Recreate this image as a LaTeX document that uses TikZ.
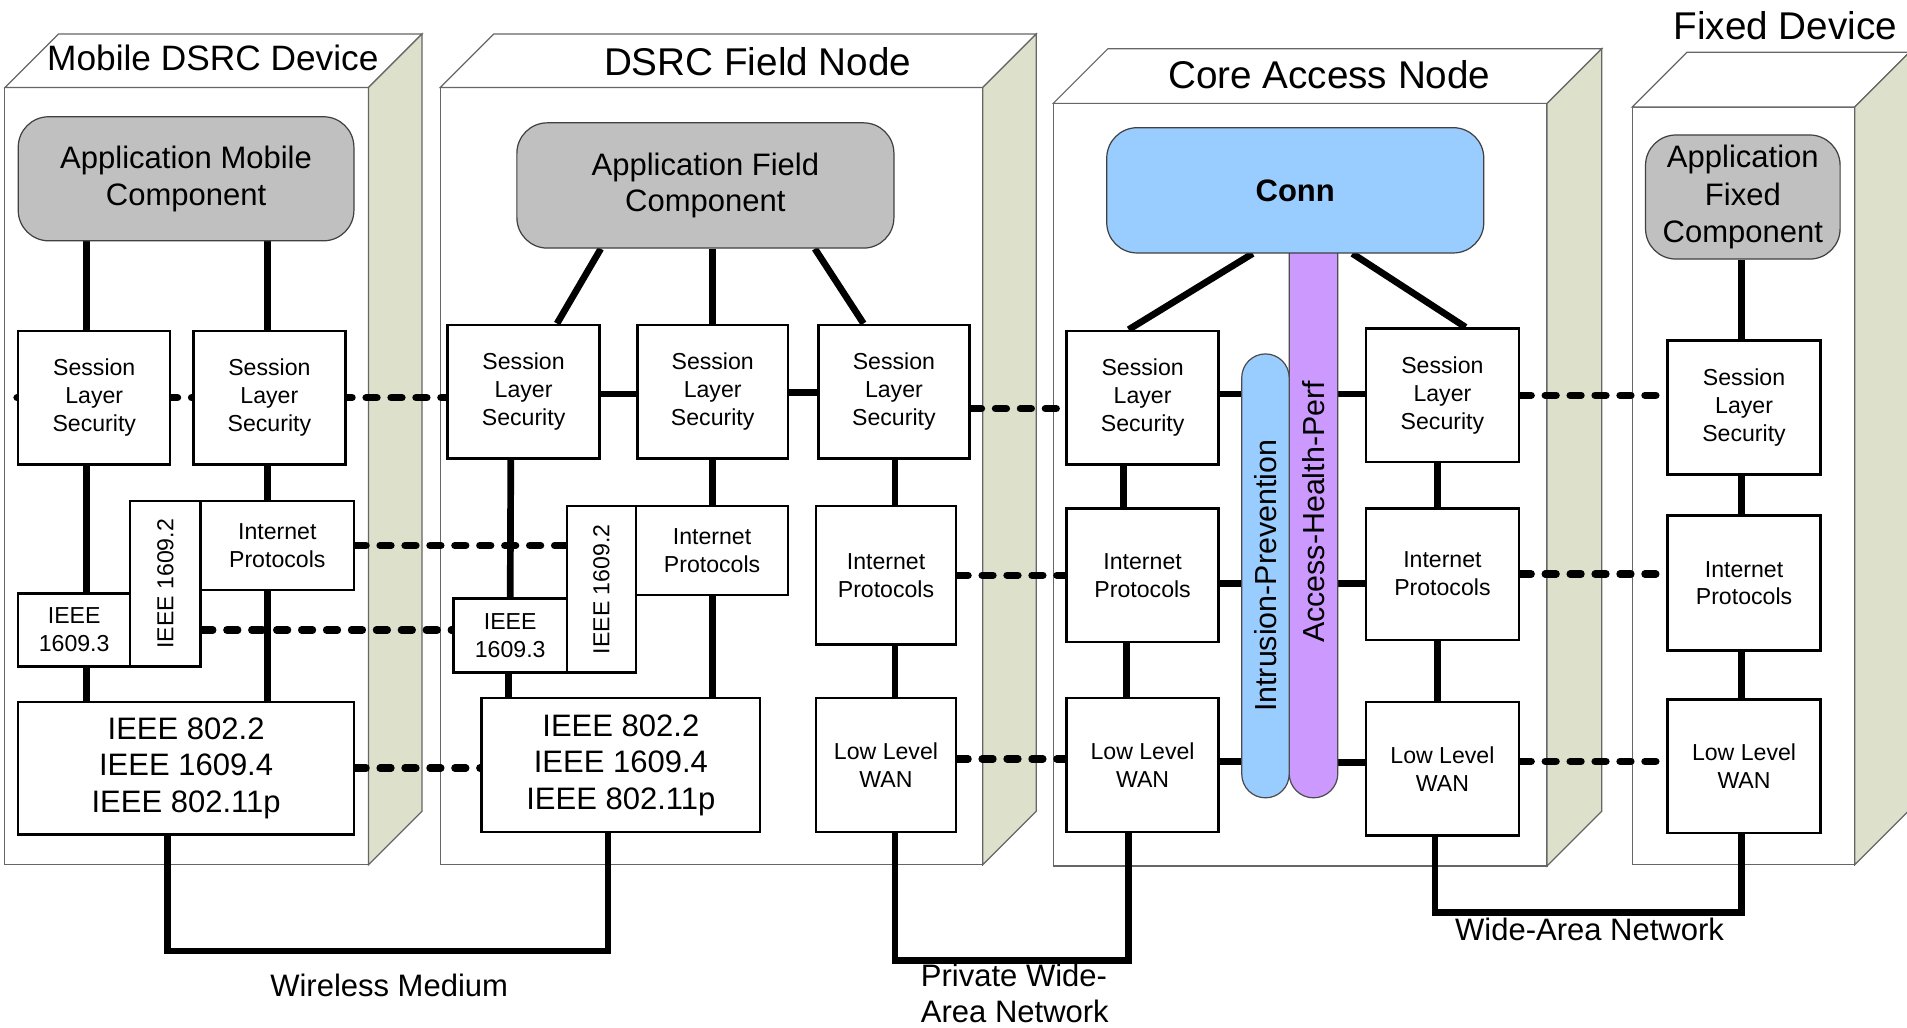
\documentclass[tikz,border=0pt]{standalone}
\usepackage{fontspec}
\setmainfont{Liberation Sans}
\usepackage{graphicx}
\pgfdeclarelayer{bg}
\pgfdeclarelayer{wires}
\pgfsetlayers{bg,wires,main}
\definecolor{sidecol}{RGB}{221,224,203}
\definecolor{appgray}{RGB}{192,192,192}
\definecolor{connblue}{RGB}{153,204,255}
\definecolor{ahpurple}{RGB}{204,153,255}
\begin{document}
\begin{tikzpicture}[x=1pt,y=-1pt,
  box/.style={draw=black, line width=2, fill=white, inner sep=2, align=center, font=\fontsize{19}{23}\selectfont},
  bigbox/.style={box, font=\fontsize{25.5}{30}\selectfont},
  app/.style={draw=black!75, line width=1, fill=appgray, rounded corners=25, align=center, font=\fontsize{25.5}{30}\selectfont},
  wire/.style={line width=5.5},
  dots/.style={line width=6, line cap=round, dash pattern=on 9pt off 11.5pt},
  shell/.style={draw=black!60, line width=1},
  title/.style={font=\fontsize{31.8}{36}\selectfont, inner sep=0},
  lbl/.style={font=\fontsize{25.5}{30}\selectfont, align=left, inner sep=0},
  bar/.style={draw=black!70, line width=1, inner sep=0},
  vtext/.style={font=\fontsize{25}{30}\selectfont, inner sep=0}
]
\useasboundingbox (0,0) rectangle (1568,845);

% ---------- 3D shells ----------
\begin{pgfonlayer}{bg}
\fill[white] (0,0) rectangle (1568,845);
\draw[shell, fill=white] (4,72) rectangle (303,711);
\draw[shell, fill=white] (4,72) -- (48,28) -- (347,28) -- (303,72) -- cycle;
\draw[shell, fill=sidecol] (303,72) -- (347,28) -- (347,667) -- (303,711) -- cycle;

\draw[shell, fill=white] (362,72) rectangle (808,711);
\draw[shell, fill=white] (362,72) -- (406,28) -- (852,28) -- (808,72) -- cycle;
\draw[shell, fill=sidecol] (808,72) -- (852,28) -- (852,667) -- (808,711) -- cycle;

\draw[shell, fill=white] (866,85) rectangle (1272,712);
\draw[shell, fill=white] (866,85) -- (911,40) -- (1317,40) -- (1272,85) -- cycle;
\draw[shell, fill=sidecol] (1272,85) -- (1317,40) -- (1317,667) -- (1272,712) -- cycle;

\draw[shell, fill=white] (1342,88) rectangle (1525,711);
\draw[shell, fill=white] (1342,88) -- (1387,43) -- (1570,43) -- (1525,88) -- cycle;
\draw[shell, fill=sidecol] (1525,88) -- (1570,43) -- (1570,666) -- (1525,711) -- cycle;
\end{pgfonlayer}

% ---------- titles ----------
\node[title, font=\fontsize{29}{34}\selectfont] (t_mob) at (175,48) {Mobile DSRC Device};
\node[title] (t_fld) at (623,51) {DSRC Field Node};
\node[title] (t_core) at (1093,61) {Core Access Node};
\node[title] (t_fix) at (1468,21) {Fixed Device};

% ---------- Mobile DSRC Device ----------
\node[app, minimum width=276, minimum height=102] (m_app) at (153,147) {Application Mobile\\Component};
\node[box, minimum width=125, minimum height=110] (m_sls1) at (77.5,327) {Session\\Layer\\Security};
\node[box, minimum width=125, minimum height=110] (m_sls2) at (221.5,327) {Session\\Layer\\Security};
\node[box, minimum width=92, minimum height=60] (m_i3) at (61,518) {IEEE\\1609.3};
\node[box, minimum width=58, minimum height=136] (m_i2) at (136,480) {\rotatebox{90}{IEEE 1609.2}};
\node[box, minimum width=126, minimum height=73] (m_ip) at (228,448.5) {Internet\\Protocols};
\node[bigbox, minimum width=276, minimum height=109] (m_phy) at (153,631.5) {IEEE 802.2\\IEEE 1609.4\\IEEE 802.11p};

% ---------- DSRC Field Node ----------
\node[app, minimum width=310, minimum height=103] (f_app) at (580,152.5) {Application Field\\Component};
\node[box, minimum width=125, minimum height=110] (f_slsA) at (430.5,322) {Session\\Layer\\Security};
\node[box, minimum width=124, minimum height=110] (f_slsB) at (586,322) {Session\\Layer\\Security};
\node[box, minimum width=124, minimum height=110] (f_slsC) at (735,322) {Session\\Layer\\Security};
\node[box, minimum width=93, minimum height=61] (f_i3) at (419.5,522.5) {IEEE\\1609.3};
\node[box, minimum width=57, minimum height=137] (f_i2) at (494.5,484.5) {\rotatebox{90}{IEEE 1609.2}};
\node[box, minimum width=125, minimum height=73] (f_ip) at (585.5,452.5) {Internet\\Protocols};
\node[bigbox, minimum width=229, minimum height=110] (f_phy) at (510.5,629) {IEEE 802.2\\IEEE 1609.4\\IEEE 802.11p};
\node[box, minimum width=115, minimum height=114] (f_ip2) at (728.5,473) {Internet\\Protocols};
\node[box, minimum width=115, minimum height=110] (f_llw) at (728.5,629) {Low Level\\WAN};

% ---------- Core Access Node ----------
\node[bar, fill=ahpurple, rounded corners=20, minimum width=40, minimum height=506] (ahp) at (1080,403) {};
\node[vtext] (ahpt) at (1080,421) {\rotatebox{90}{Access-Health-Perf}};
\node[bar, fill=connblue, rounded corners=19.5, minimum width=39, minimum height=365] (ips) at (1040.5,473.5) {\rotatebox{90}{\fontsize{25}{30}\selectfont Intrusion-Prevention}};
\node[app, fill=connblue, minimum width=310, minimum height=103, font=\fontsize{25.5}{30}\selectfont\bfseries] (c_conn) at (1065,156.5) {Conn};
\node[box, minimum width=125, minimum height=110] (c_slsL) at (939.5,327) {Session\\Layer\\Security};
\node[box, minimum width=126, minimum height=110] (c_slsR) at (1186,325) {Session\\Layer\\Security};
\node[box, minimum width=125, minimum height=110] (c_ipL) at (939.5,473) {Internet\\Protocols};
\node[box, minimum width=125, minimum height=110] (c_llwL) at (939.5,629) {Low Level\\WAN};
\node[box, minimum width=126, minimum height=108] (c_ipR) at (1186,472) {Internet\\Protocols};
\node[box, minimum width=126, minimum height=110] (c_llwR) at (1186,632) {Low Level\\WAN};

% ---------- Fixed Device ----------
\node[app, minimum width=160, minimum height=102, font=\fontsize{25.5}{31}\selectfont] (x_app) at (1433,162) {Application\\Fixed\\Component};
\node[box, minimum width=126, minimum height=110] (x_sls) at (1434,335) {Session\\Layer\\Security};
\node[box, minimum width=126, minimum height=111] (x_ip) at (1434,479.5) {Internet\\Protocols};
\node[box, minimum width=126, minimum height=110] (x_llw) at (1434,630) {Low Level\\WAN};

% ---------- labels ----------
\coordinate (wm) at (320,782);
\coordinate (pw) at (832,790);
\coordinate (wan) at (1307,750);
\node[lbl] (l_wm) at (320,810) {Wireless Medium};
\node[lbl, anchor=west] (l_pw) at (757,817) {Private Wide-\\Area Network};
\node[lbl] (l_wan) at (1307,764) {Wide-Area Network};

% ---------- connectors ----------
\begin{pgfonlayer}{wires}
% mobile
\draw[wire] ([xshift=-82]m_app.south) -- ([xshift=-6.5]m_sls1.north);
\draw[wire] ([xshift=-6.5]m_sls1.south) -- ([xshift=10]m_i3.north);
\draw[wire] ([xshift=10]m_i3.south) -- ([xshift=-82]m_phy.north);
\draw[wire] ([xshift=67]m_app.south) -- ([xshift=-1.5]m_sls2.north);
\draw[wire] ([xshift=-1.5]m_sls2.south) -- ([xshift=-8]m_ip.north);
\draw[wire] ([xshift=-8]m_ip.south) -- ([xshift=67]m_phy.north);
% field
\draw[wire] ([xshift=-86]f_app.south) -- ([xshift=27.5]f_slsA.north);
\draw[wire] ([xshift=6]f_app.south) -- (f_slsB.north);
\draw[wire] ([xshift=90]f_app.south) -- ([xshift=-25]f_slsC.north);
\draw[wire] ([yshift=-2]f_slsA.east) -- ([yshift=-2]f_slsB.west);
\draw[wire] ([yshift=-1]f_slsB.east) -- ([yshift=-1]f_slsC.west);
\draw[wire] ([xshift=-10.5]f_slsA.south) -- (f_i3.north);
\draw[wire] ([xshift=-1.5]f_i3.south) -- ([xshift=-92.5]f_phy.north);
\draw[wire] (f_slsB.south) -- ([xshift=0.5]f_ip.north);
\draw[wire] ([xshift=0.5]f_ip.south) -- ([xshift=75.5]f_phy.north);
\draw[wire] ([xshift=1]f_slsC.south) -- ([xshift=7.5]f_ip2.north);
\draw[wire] ([xshift=7.5]f_ip2.south) -- ([xshift=7.5]f_llw.north);
% core
\draw[wire] ([xshift=-35]c_conn.south) -- ([xshift=-11.5]c_slsL.north);
\draw[wire] ([xshift=47]c_conn.south) -- ([xshift=19]c_slsR.north);
\draw[wire] ([xshift=-15.5]c_slsL.south) -- ([xshift=-15.5]c_ipL.north);
\draw[wire] ([xshift=-13.5]c_ipL.south) -- ([xshift=-13.5]c_llwL.north);
\draw[wire] ([xshift=-4]c_slsR.south) -- ([xshift=-4]c_ipR.north);
\draw[wire] ([xshift=-4]c_ipR.south) -- ([xshift=-4]c_llwR.north);
\draw[wire] ([yshift=3]c_slsL.east) -- ([yshift=3]c_slsL.east -| ips.west);
\draw[wire] ([yshift=-7]c_ipL.east) -- ([yshift=-7]c_ipL.east -| ips.west);
\draw[wire] ([yshift=3]c_llwL.east) -- ([yshift=3]c_llwL.east -| ips.west);
\draw[wire] ([yshift=1]c_slsR.west) -- ([yshift=1]c_slsR.west -| ahp.east);
\draw[wire] ([yshift=-8]c_ipR.west) -- ([yshift=-8]c_ipR.west -| ahp.east);
\draw[wire] ([yshift=5]c_llwR.west) -- ([yshift=5]c_llwR.west -| ahp.east);
% fixed
\draw[wire] ([xshift=-1]x_app.south) -- ([xshift=-2]x_sls.north);
\draw[wire] ([xshift=-2]x_sls.south) -- ([xshift=-2]x_ip.north);
\draw[wire] ([xshift=-2]x_ip.south) -- ([xshift=-2]x_llw.north);
% networks
\draw[wire] ([xshift=-15]m_phy.south) |- (wm) -| ([xshift=-10.5]f_phy.south);
\draw[wire] ([xshift=7.5]f_llw.south) |- (pw) -| ([xshift=-11.5]c_llwL.south);
\draw[wire] ([xshift=-6]c_llwR.south) |- (wan) -| ([xshift=-2]x_llw.south);
% peer (dotted) links
\draw[dots] (m_sls1.west) -- (m_sls1.west -| f_slsA.west);
\draw[dots] (m_ip.east) -- (m_ip.east -| f_i2.west);
\draw[dots] (m_i3 -| m_i2.east) -- (m_i3 -| f_i3.west);
\draw[dots] (m_phy.east) -- (m_phy.east -| f_phy.west);
\draw[dots] ([yshift=-14]f_slsC.east) -- ([yshift=-14]f_slsC.east -| c_slsL.west);
\draw[dots] (f_ip2.east) -- (f_ip2.east -| c_ipL.west);
\draw[dots] ([yshift=5]f_llw.east) -- ([yshift=5]f_llw.east -| c_llwL.west);
\draw[dots] (c_slsR.east) -- (c_slsR.east -| x_sls.west);
\draw[dots] (c_ipR.east) -- (c_ipR.east -| x_ip.west);
\draw[dots] ([yshift=6]c_llwR.east) -- ([yshift=6]c_llwR.east -| x_llw.west);
\end{pgfonlayer}
\end{tikzpicture}
\end{document}
